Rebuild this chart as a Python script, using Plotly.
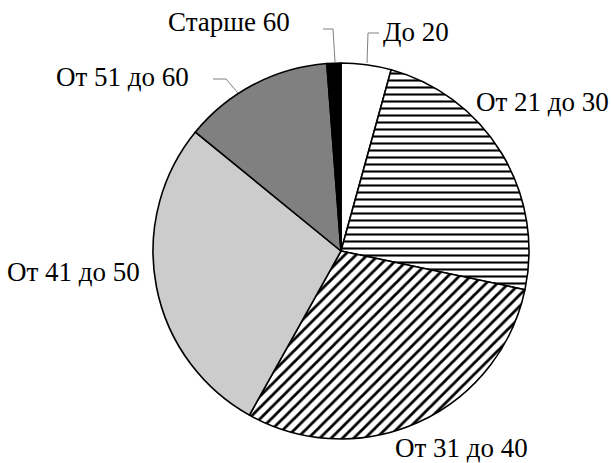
import plotly.graph_objects as go

labels = ["До 20", "От 21 до 30", "От 31 до 40", "От 41 до 50", "От 51 до 60", "Старше 60"]
values = [4.3, 24.0, 29.8, 27.8, 12.9, 1.2]

colors = ["white", "white", "white", "#cccccc", "#808080", "black"]
shapes_pat = ["", "-", "/", "", "", ""]
pat_sizes = [7, 7, 8, 7, 7, 7]
pat_solid = [0.3, 0.3, 0.35, 0.3, 0.3, 0.3]

W, H = 611, 463
CX, CY, R = 341, 251, 188


def px(x):
    return x / W


def py(y):
    return 1 - y / H


fig = go.Figure(go.Pie(
    labels=labels,
    values=values,
    sort=False,
    direction="clockwise",
    rotation=0,
    textinfo="none",
    hoverinfo="label+percent",
    marker=dict(
        colors=colors,
        line=dict(color="black", width=1.6),
        pattern=dict(shape=shapes_pat, fgcolor="black", bgcolor=colors,
                     size=pat_sizes, solidity=pat_solid, fillmode="replace"),
    ),
    domain=dict(x=[px(CX - R), px(CX + R)], y=[py(CY + R), py(CY - R)]),
    showlegend=False,
))

# label placement (pixel centers)
label_pos = {
    "До 20": (416, 32),
    "От 21 до 30": (542, 102),
    "От 31 до 40": (461, 448),
    "От 41 до 50": (73, 272),
    "От 51 до 60": (122, 77),
    "Старше 60": (229, 22),
}
annotations = []
for lab in labels:
    x, y = label_pos[lab]
    annotations.append(dict(
        x=px(x), y=py(y), xref="paper", yref="paper", text=lab, showarrow=False,
        xanchor="center", yanchor="middle",
        font=dict(family="Liberation Serif", size=27, color="black"),
    ))

leaders = [
    [(335, 62), (333, 29), (323, 29)],
    [(367, 63), (368, 33), (379, 33)],
    [(238, 93), (226, 79), (213, 79)],
]
shapes = []
for pts in leaders:
    path = "M " + " L ".join(f"{px(x)},{py(y)}" for x, y in pts)
    shapes.append(dict(type="path", path=path, xref="paper", yref="paper",
                       line=dict(color="#808080", width=1)))

fig.update_layout(
    width=W, height=H,
    margin=dict(l=0, r=0, t=0, b=0),
    paper_bgcolor="white", plot_bgcolor="white",
    annotations=annotations,
    shapes=shapes,
)

fig.write_html("out.html",
               config={"displayModeBar": False},
               post_script="document.body.style.margin='0';document.body.style.padding='0';")
